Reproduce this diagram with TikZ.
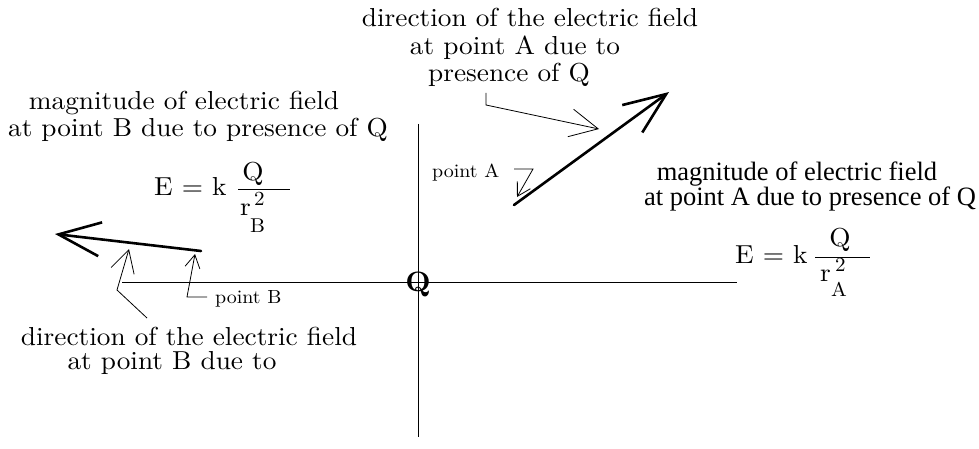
\documentclass[tikz,border=0pt]{standalone}
\usepackage{fontspec}
\setmainfont{lmroman10-regular.otf}[FakeStretch=1.05, BoldFont=lmroman10-bold.otf]
\newfontfamily\timesfont{Liberation Serif}
\usetikzlibrary{arrows.meta}
\begin{document}
\begin{tikzpicture}[x=1pt,y=-1pt,
  txt/.style={anchor=base, inner sep=0pt, font=\fontsize{26}{30}\selectfont},
  smalltxt/.style={anchor=base west, inner sep=0pt, font=\fontsize{19}{21}\selectfont},
  scr/.style={anchor=base west, inner sep=0pt, font=\fontsize{20}{22}\selectfont},
  timestxt/.style={anchor=base, inner sep=0pt, font=\timesfont\fontsize{26.5}{28}\selectfont},
  thin/.style={line width=0.8pt},
  bigarrow/.style={line width=2.6pt, line cap=round, -{Straight Barb[length=42pt,width=34pt]}},
  annarrow/.style={thin, -{Straight Barb[length=28pt,width=28pt]}},
  midarrow/.style={thin, -{Straight Barb[length=22pt,width=24pt]}},
  smallarrow/.style={thin, -{Straight Barb[length=13pt,width=15pt]}}]
\useasboundingbox (0,0) rectangle (979,449);

% axes
\coordinate (hl) at (122,282);
\coordinate (hr) at (737,282);
\coordinate (vt) at (418,124);
\coordinate (vb) at (418,437);
\draw[thin] (hl) -- (hr);
\draw[thin] (vt) -- (vb);
\node[inner sep=0pt, font=\fontsize{28}{30}\selectfont\bfseries] (Q) at (418,284) {Q};

% big arrow at point A
\coordinate (Atail) at (514,205);
\coordinate (Atip) at (669,92);
\draw[bigarrow] (Atail) -- (Atip);

% big arrow at point B
\coordinate (Btail) at (201,251);
\coordinate (Btip) at (55,234);
\draw[bigarrow] (Btail) -- (Btip);

% top text
\node[txt] (t1) at (530,27) {direction of the electric field};
\node[txt] (t2) at (515,55) {at point A due to};
\node[txt] (t3) at (509,82) {presence of Q};
\coordinate (ta0) at (486,93);
\coordinate (ta1) at (486,105);
\coordinate (ta2) at (599,129);
\draw[annarrow] (ta0) -- (ta1) -- (ta2);

% point A
\node[smalltxt] (pA) at (432,178) {point A};
\coordinate (pa0) at (514,169);
\coordinate (pa1) at (533,169);
\coordinate (pa2) at (517,197);
\draw[smallarrow] (pa0) -- (pa1) -- (pa2);

% left text
\node[txt] (l1) at (184,110) {magnitude of electric field};
\node[txt] (l2) at (198,137) {at point B due to presence of Q};
\node[txt, anchor=base west] (EkB) at (154,196) {E = k};
\node[txt] (QB) at (253,181) {Q};
\coordinate (barBl) at (238,189);
\coordinate (barBr) at (290,189);
\draw[thin] (barBl) -- (barBr);
\node[txt, anchor=base west] (rB) at (240,215) {r};
\node[scr] (rB2) at (254,205) {2};
\node[scr] (rBs) at (250,232) {B};

% right text
\node[timestxt] (r1) at (797,181) {magnitude of electric field};
\node[timestxt] (r2) at (810,205) {at point A due to presence of Q};
\node[txt, anchor=base west] (EkA) at (735,263) {E = k};
\node[txt] (QA) at (840,246) {Q};
\coordinate (barAl) at (815,257);
\coordinate (barAr) at (870,257);
\draw[thin] (barAl) -- (barAr);
\node[txt, anchor=base west] (rA) at (820,281) {r};
\node[scr] (rA2) at (835,271) {2};
\node[scr] (rAs) at (831,296) {A};

% point B and bottom text
\node[smalltxt] (pB) at (215,303) {point B};
\coordinate (pb0) at (207,297);
\coordinate (pb1) at (187,297);
\coordinate (pb2) at (195,254);
\draw[smallarrow] (pb0) -- (pb1) -- (pb2);

\node[txt] (b1) at (189,345) {direction of the electric field};
\node[txt] (b2) at (172,369) {at point B due to};
\coordinate (ba0) at (147,318);
\coordinate (ba1) at (117,290);
\coordinate (ba2) at (129,249);
\draw[midarrow] (ba0) -- (ba1) -- (ba2);
\end{tikzpicture}
\end{document}
